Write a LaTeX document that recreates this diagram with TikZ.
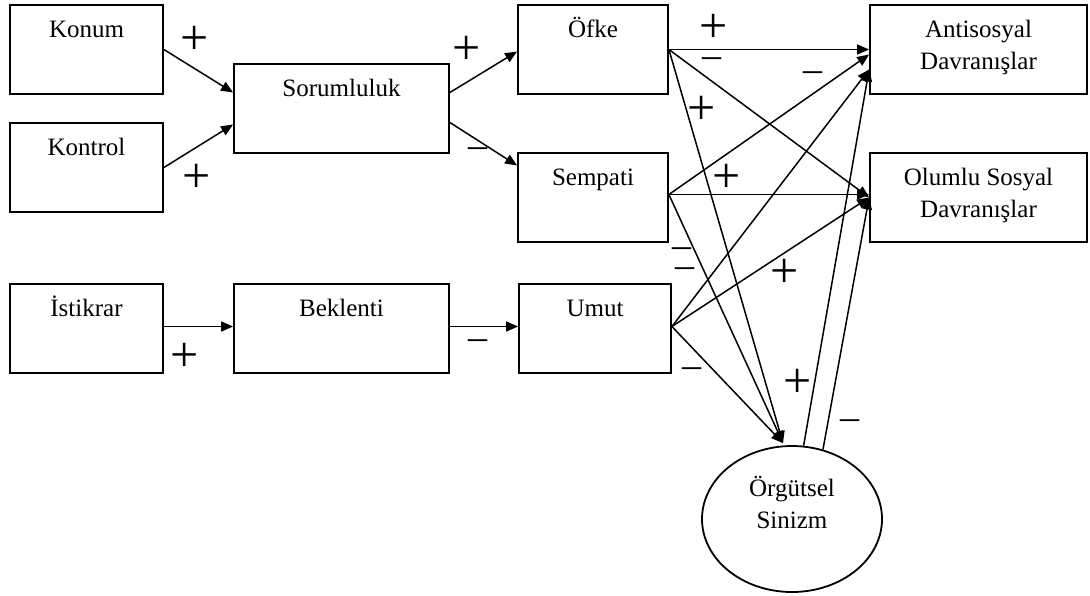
\documentclass[tikz,border=0pt]{standalone}
\usepackage{fontspec}
\setmainfont{Liberation Serif}
\usetikzlibrary{arrows.meta,positioning,shapes.geometric}

\tikzset{
  kutu/.style={draw, line width=0.9pt, inner sep=0pt, minimum height=44.5pt,
    text height=16pt, text depth=28.5pt, align=center, font=\fontsize{12.5}{16}\selectfont},
  ikisatir/.style={text height=32pt, text depth=12.5pt},
  ok/.style={-{Triangle[length=6pt,width=5pt]}, line width=0.75pt},
  arti/.style={font=\fontsize{25}{25}\selectfont, inner sep=0pt},
  eksi/.style={font=\fontsize{19}{19}\selectfont, inner sep=0pt},
}

\begin{document}
\begin{tikzpicture}[x=0.5pt, y=-0.5pt]
    \useasboundingbox (0,0) rectangle (1090,595);

    \node[kutu, minimum width=76.5pt] (konum) at (86.5,49.5) {Konum};
    \node[kutu, minimum width=76.5pt] (kontrol) at (86.5,167.5) {Kontrol};
    \node[kutu, minimum width=107.5pt] (sorum) at (341.5,108.5) {Sorumluluk};
    \node[kutu, minimum width=75pt] (ofke) at (593,49.5) {Öfke};
    \node[kutu, minimum width=75pt] (sempati) at (593,197.5) {Sempati};
    \node[kutu, ikisatir, minimum width=108.5pt] (anti) at (978.5,49.5) {Antisosyal\\Davranışlar};
    \node[kutu, ikisatir, minimum width=108.5pt] (olumlu) at (978.5,197.5) {Olumlu Sosyal\\Davranışlar};
    \node[kutu, minimum width=76.5pt] (istikrar) at (86.5,328.5) {İstikrar};
    \node[kutu, minimum width=107.5pt] (beklenti) at (341.5,328.5) {Beklenti};
    \node[kutu, minimum width=76pt] (umut) at (595,328.5) {Umut};
    \node[ellipse, draw, line width=0.9pt, inner sep=0pt, minimum width=90pt, minimum height=73pt,
      text height=25pt, text depth=16pt, align=center, font=\fontsize{12.5}{16}\selectfont]
      (sinizm) at (792,519) {Örgütsel\\Sinizm};

    % sol taraf
    \draw[ok] (konum.east) -- ([yshift=8pt]sorum.west);
    \draw[ok] (kontrol.east) -- ([yshift=-8pt]sorum.west);
    \draw[ok] ([yshift=8pt]sorum.east) -- ([yshift=-1pt]ofke.west);
    \draw[ok] ([yshift=-7pt]sorum.east) -- ([yshift=16pt]sempati.west);
    \draw[ok] ([yshift=1pt]istikrar.east) -- ([yshift=1pt]beklenti.west);
    \draw[ok] ([yshift=1pt]beklenti.east) -- ([yshift=1pt]umut.west);

    % duygulardan sonuclara
    \coordinate (a1) at ([yshift=-2.5pt]anti.west);
    \coordinate (a2) at ([yshift=-10pt]anti.west);
    \coordinate (s1) at ([xshift=-4.5pt,yshift=1pt]sinizm.north);
    \draw[ok] (ofke.east) -- (anti.west);
    \draw[ok] (ofke.east) -- (olumlu.west);
    \draw[ok] (ofke.east) -- (s1);
    \draw[ok] ([yshift=1.5pt]sempati.east) -- (a1);
    \draw[ok] ([yshift=1.5pt]sempati.east) -- ([yshift=1.5pt]olumlu.west);
    \draw[ok] ([yshift=1.5pt]sempati.east) -- (s1);
    \draw[ok] ([yshift=1pt]umut.east) -- (a2);
    \draw[ok] ([yshift=1pt]umut.east) -- (olumlu.west);
    \draw[ok] ([yshift=1pt]umut.east) -- (s1);
    \draw[ok] (sinizm.81) -- (a2);
    \draw[ok] (sinizm.66) -- (olumlu.west);

    % isaretler
    \node[arti] (p1) at (195,40) {+};
    \node[arti] (p2) at (197,178) {+};
    \node[arti] (p3) at (467,50) {+};
    \node[eksi] (m1) at (478,153) {–};
    \node[arti] (p4) at (185,357) {+};
    \node[eksi] (m2) at (478,345) {–};
    \node[arti] (p5) at (714,28) {+};
    \node[eksi] (m3) at (712,63) {–};
    \node[arti] (p6) at (702,110) {+};
    \node[eksi] (m4) at (813,77) {–};
    \node[arti] (p7) at (727,178) {+};
    \node[eksi] (m5) at (682,253) {–};
    \node[eksi] (m6) at (685,273) {–};
    \node[arti] (p8) at (785,273) {+};
    \node[eksi] (m7) at (692,373) {–};
    \node[arti] (p9) at (798,383) {+};
    \node[eksi] (m8) at (850,425) {–};
\end{tikzpicture}
\end{document}
